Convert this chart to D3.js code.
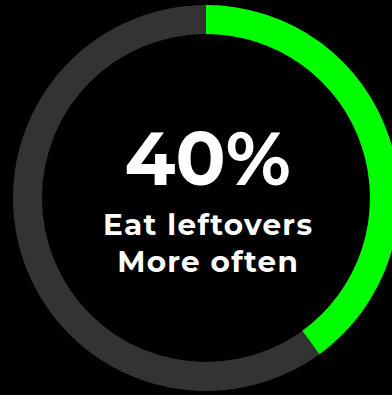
<!DOCTYPE html>
<html>
<head>
<meta charset="utf-8">
<script src="https://cdn.jsdelivr.net/npm/d3@7"></script>
<style>
  html, body { margin: 0; padding: 0; background: #000; overflow: hidden; }
  svg { display: block; }
</style>
</head>
<body>
<svg id="chart" width="392" height="395"></svg>
<script>
// Share of respondents who eat leftovers more often
const value = 40;
const total = 100;
const headline = ["40%"];
const labelLines = ["Eat leftovers", "More often"];

const width = 392, height = 395;
const cx = 206, cy = 198;
const outerR = 193, innerR = 164;

const svg = d3.select("#chart");
const g = svg.append("g").attr("transform", `translate(${cx},${cy})`);

const angle = d3.scaleLinear().domain([0, total]).range([0, 2 * Math.PI]);
const arc = d3.arc().innerRadius(innerR).outerRadius(outerR);

// background track
g.append("path")
  .attr("d", arc({ startAngle: angle(0), endAngle: angle(total) }))
  .attr("fill", "#333333");

// value arc
g.append("path")
  .attr("d", arc({ startAngle: angle(0), endAngle: angle(value) }))
  .attr("fill", "#00ff00");

const font = "Montserrat, Inter, 'Noto Sans', sans-serif";
const textX = 1.5;

g.append("text")
  .attr("x", textX)
  .attr("y", -13)
  .attr("text-anchor", "middle")
  .attr("fill", "#fff")
  .attr("font-family", font)
  .attr("font-weight", 700)
  .attr("font-size", 74)
  .text(headline[0]);

g.selectAll("text.label")
  .data(labelLines)
  .join("text")
  .attr("class", "label")
  .attr("x", textX + 0.7)
  .attr("y", (d, i) => 37.3 + i * 36.4)
  .attr("text-anchor", "middle")
  .attr("fill", "#fff")
  .attr("font-family", font)
  .attr("font-weight", 700)
  .attr("font-size", 29.5)
  .attr("letter-spacing", 1.3)
  .text(d => d);
</script>
</body>
</html>
